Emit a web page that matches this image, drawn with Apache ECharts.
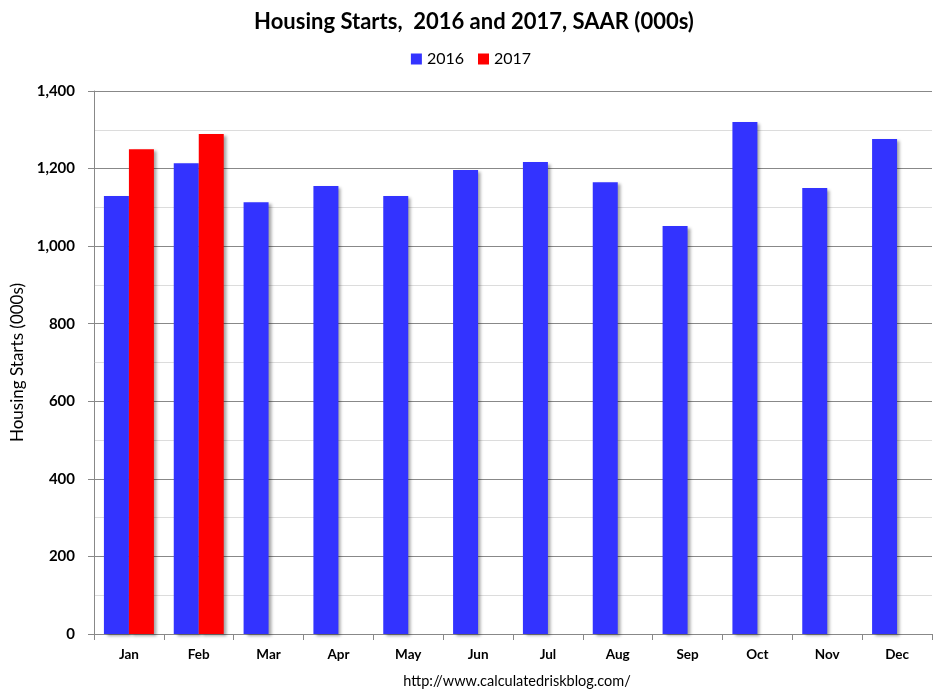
<!DOCTYPE html>
<html>
<head>
<meta charset="utf-8">
<script src="https://cdn.jsdelivr.net/npm/echarts@6/dist/echarts.min.js"></script>
<style>html,body{margin:0;padding:0;background:#fff}#c{width:942px;height:696px}</style>
</head>
<body>
<div id="c"></div>
<script>
var months = ['Jan','Feb','Mar','Apr','May','Jun','Jul','Aug','Sep','Oct','Nov','Dec'];
var starts2016 = [1129, 1214, 1113, 1155, 1129, 1196, 1217, 1165, 1052, 1320, 1150, 1276];
var starts2017 = [1250, 1289, '-', '-', '-', '-', '-', '-', '-', '-', '-', '-'];
var yTicks = [0, 200, 400, 600, 800, 1000, 1200, 1400];

var font = 'Lato, "Open Sans", sans-serif';
var shadow = {shadowColor: 'rgba(0,0,0,0.35)', shadowBlur: 3, shadowOffsetX: 3, shadowOffsetY: 2};
var chart = echarts.init(document.getElementById('c'));
chart.setOption({
  animation: false,
  textStyle: {fontFamily: font},
  title: [{
    text: 'Housing Starts,  2016 and 2017, SAAR (000s)',
    left: 469, top: 6, textAlign: 'center',
    textStyle: {fontSize: 22, fontWeight: 'bold', color: '#000', fontFamily: font}
  }, {
    text: 'http://www.calculatedriskblog.com/',
    left: 512, top: 669, textAlign: 'center',
    textStyle: {fontSize: 14.5, fontWeight: 'normal', color: '#000', fontFamily: font}
  }],
  legend: {
    top: 46, left: 'center', itemWidth: 11, itemHeight: 11, itemGap: 14,
    icon: 'rect',
    textStyle: {fontSize: 16, color: '#000', fontFamily: font},
    data: ['2016', '2017']
  },
  grid: {left: 94, right: 10, top: 91, bottom: 62},
  xAxis: {
    type: 'category', data: months,
    axisLine: {lineStyle: {color: '#888'}},
    axisTick: {show: true, length: 6, lineStyle: {color: '#888'}},
    axisLabel: {fontSize: 13.5, fontWeight: 'bold', color: '#000', margin: 14, fontFamily: font}
  },
  yAxis: {
    type: 'value', min: yTicks[0], max: yTicks[yTicks.length - 1], interval: 200,
    name: 'Housing Starts (000s)', nameLocation: 'middle', nameGap: 66, nameRotate: 90,
    nameTextStyle: {fontSize: 17, color: '#000', fontFamily: font},
    axisLine: {show: true, lineStyle: {color: '#888'}},
    axisTick: {show: true, length: 6, lineStyle: {color: '#888'}},
    axisLabel: {
      fontSize: 15, fontWeight: 'bold', color: '#000', margin: 19, fontFamily: font,
      formatter: function (v) { return v.toLocaleString('en-US'); }
    },
    splitLine: {lineStyle: {color: '#888'}},
    minorTick: {show: false, splitNumber: 2},
    minorSplitLine: {show: true, lineStyle: {color: '#dcdcdc'}}
  },
  series: [{
    name: '2016', type: 'bar', data: starts2016, barWidth: 25, barGap: '0%',
    itemStyle: Object.assign({color: '#3333FF'}, shadow)
  }, {
    name: '2017', type: 'bar', data: starts2017, barWidth: 25,
    itemStyle: Object.assign({color: '#FF0000'}, shadow)
  }]
});
</script>
</body>
</html>
